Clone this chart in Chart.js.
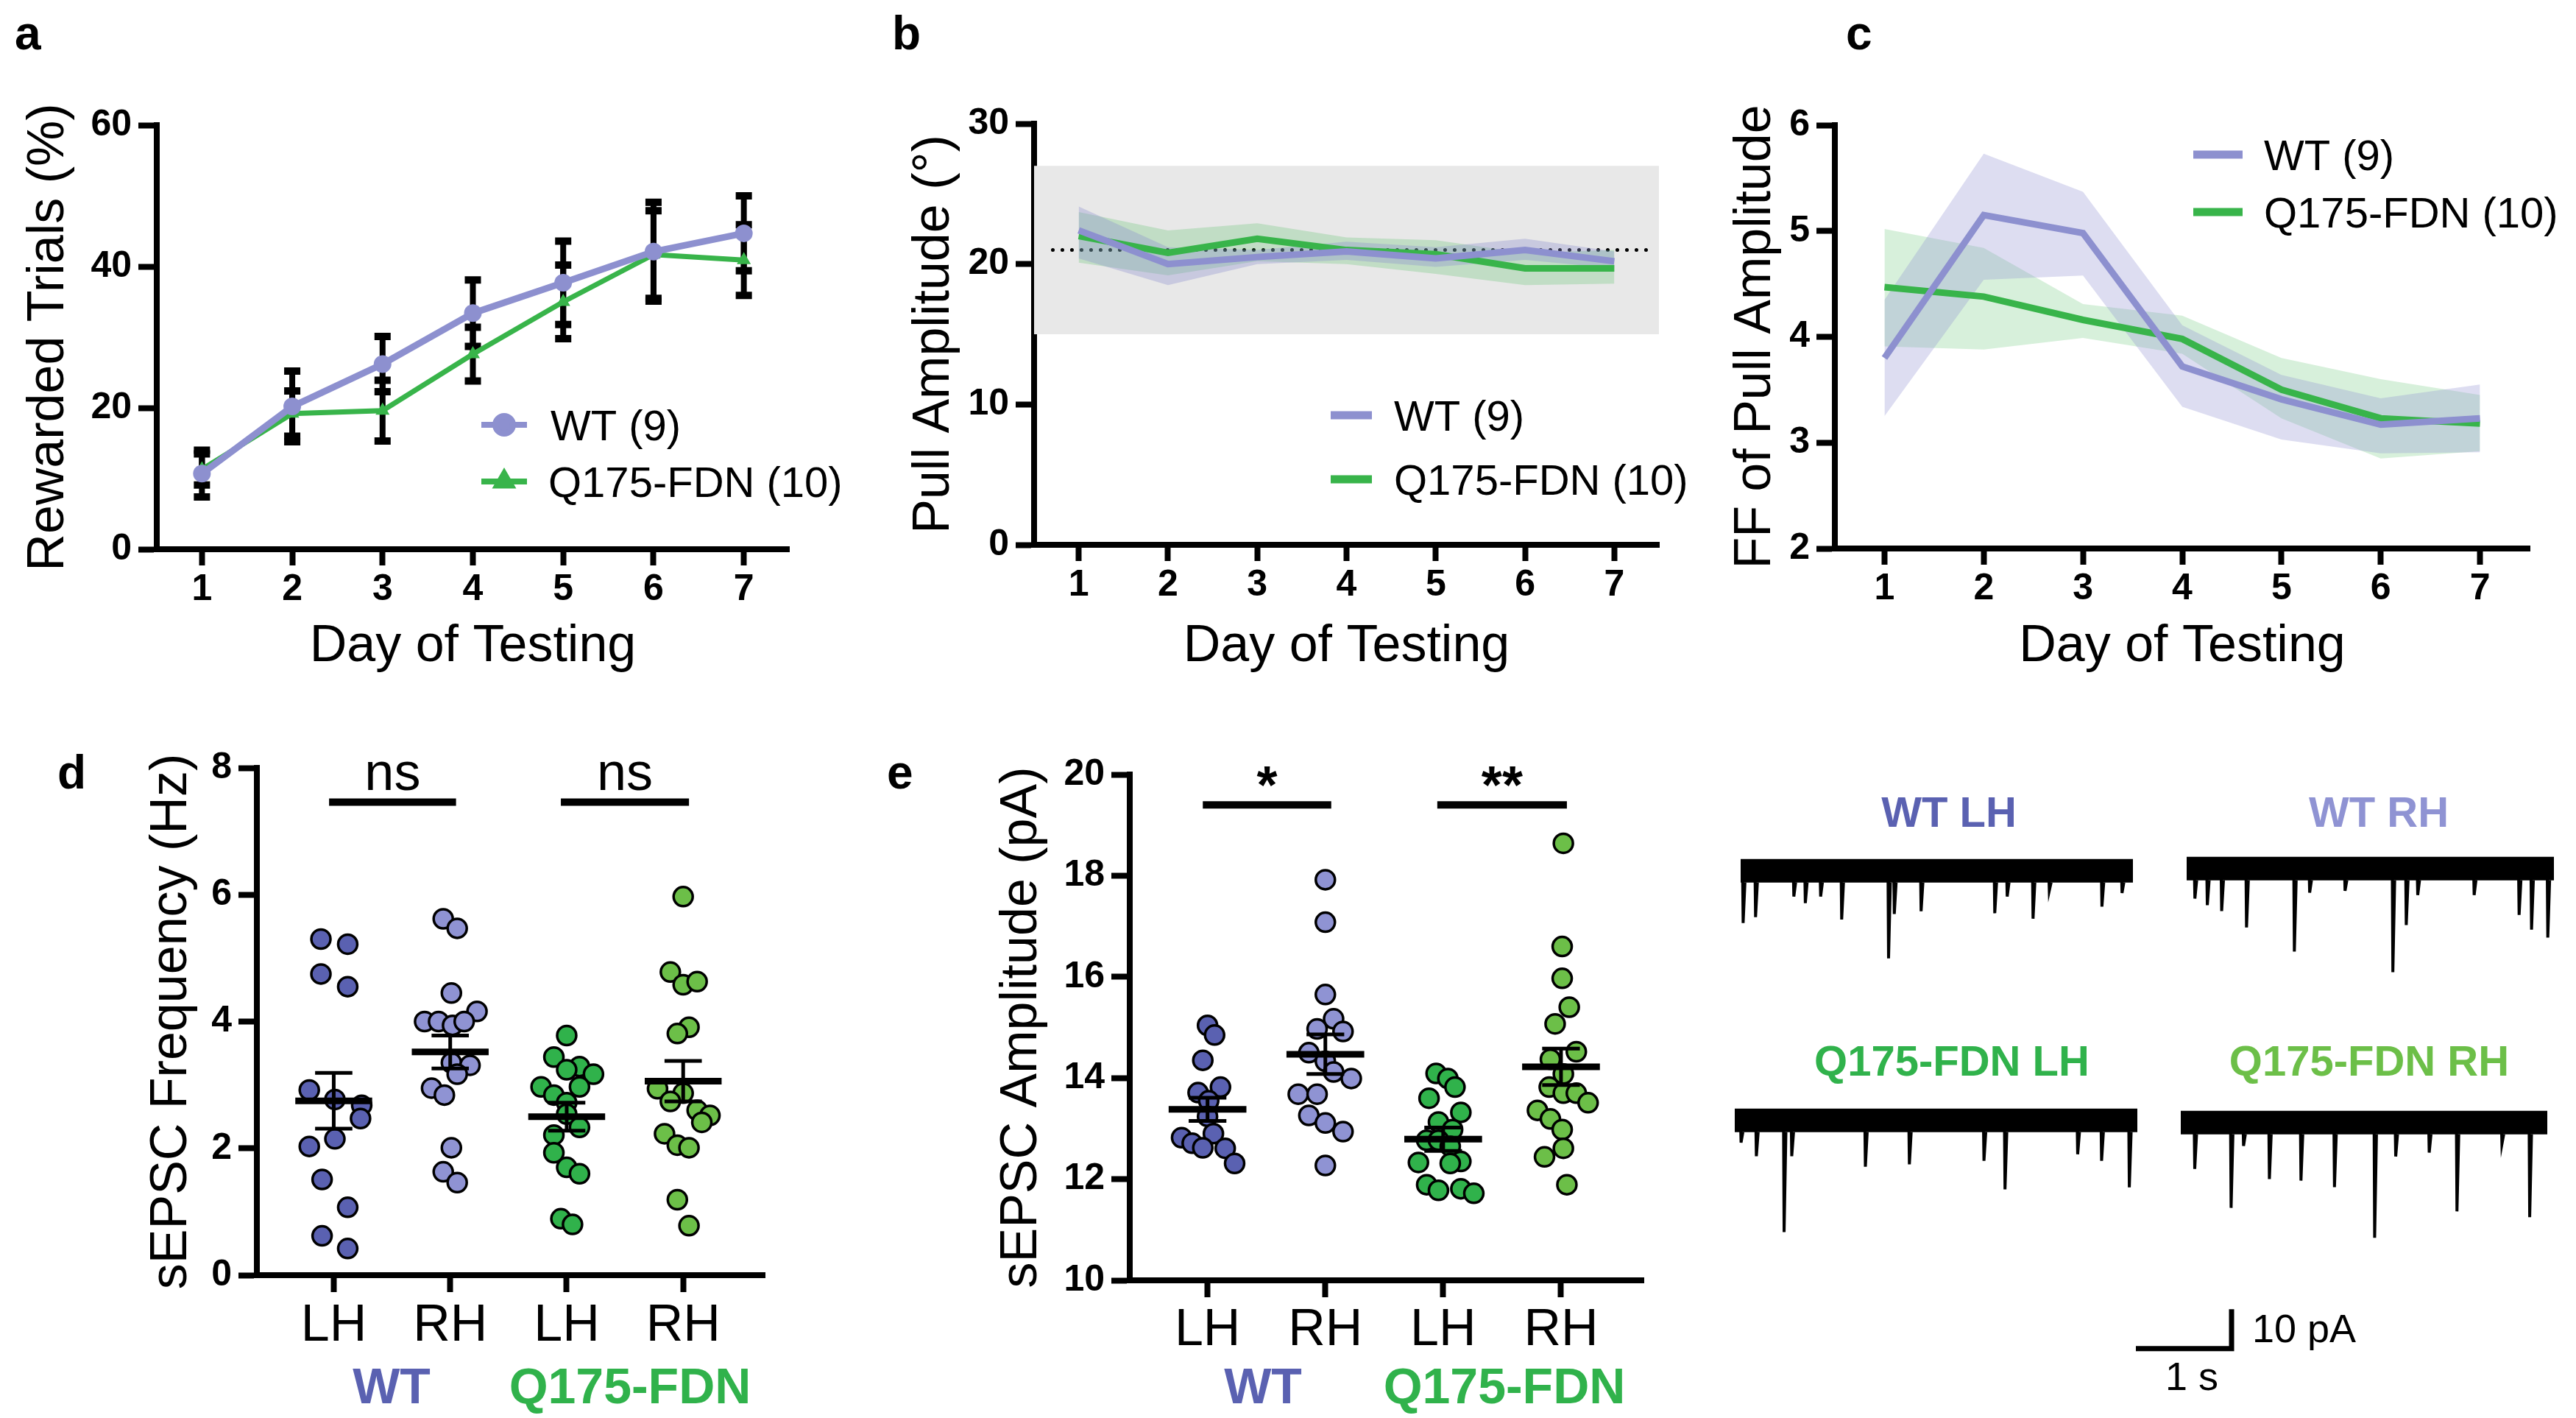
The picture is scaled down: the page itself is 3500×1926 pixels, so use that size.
<!DOCTYPE html>
<html>
<head>
<meta charset="utf-8">
<script src="https://cdn.jsdelivr.net/npm/chart.js@4.4.1/dist/chart.umd.min.js"></script>
<style>
  body { margin: 0; background: #fff; }
  #fig { position: relative; width: 3500px; height: 1926px; overflow: hidden; background: #fff;
         font-family: 'Liberation Sans', Arial, Helvetica, sans-serif; }
  canvas { position: absolute; }
  .lbl { position: absolute; white-space: nowrap; line-height: 1; }
</style>
</head>
<body>
<div id="fig"></div>
<script>
// ---------- data ----------
const days = [1, 2, 3, 4, 5, 6, 7];

// a: rewarded trials (%), mean and SEM
const rewardWT = [10.7, 20.2, 26.2, 33.4, 37.7, 42.1, 44.7];
const rewardWTErr = [3.3, 5.0, 3.9, 4.7, 5.9, 7.0, 5.3];
const rewardQ = [11.3, 19.2, 19.6, 27.6, 35.0, 41.7, 40.9];
const rewardQErr = [2.2, 3.2, 4.3, 3.8, 5.2, 6.2, 5.0];

// b: pull amplitude (deg), mean with upper / lower band
const ampWT = [22.4, 20.0, 20.5, 20.9, 20.4, 21.0, 20.2];
const ampWTHi = [24.1, 21.2, 21.0, 21.6, 21.2, 21.8, 20.9];
const ampWTLo = [20.4, 18.5, 20.0, 20.3, 19.8, 20.3, 19.7];
const ampQ = [22.0, 20.8, 21.8, 21.0, 20.7, 19.7, 19.7];
const ampQHi = [23.7, 22.4, 22.9, 21.9, 21.7, 20.8, 21.0];
const ampQLo = [20.1, 19.2, 20.2, 20.0, 19.3, 18.5, 18.6];
const normalRange = [15, 27];
const normalMean = 21;
const normalSpan = [0.71, 7.41];

// c: FF of pull amplitude
const ffWT = [3.80, 5.15, 4.98, 3.72, 3.41, 3.17, 3.23];
const ffWTHi = [4.35, 5.73, 5.37, 4.11, 3.64, 3.42, 3.55];
const ffWTLo = [3.25, 4.54, 4.58, 3.34, 3.03, 2.90, 2.91];
const ffQ = [4.47, 4.38, 4.16, 3.98, 3.50, 3.23, 3.18];
const ffQHi = [5.02, 4.84, 4.31, 4.20, 3.80, 3.60, 3.45];
const ffQLo = [3.91, 3.88, 3.99, 3.84, 3.23, 2.85, 2.92];

// d: sEPSC frequency (Hz), per cell; offsets = horizontal scatter within the column
const sides = ['LH', 'RH', 'LH', 'RH'];
const freqWTLH = [5.30, 5.22, 4.75, 4.55, 2.92, 2.77, 2.68, 2.47, 2.03, 2.15, 1.51, 1.07, 0.62, 0.42];
const freqWTLHoff = [-0.11, 0.12, -0.11, 0.12, -0.21, 0.01, 0.24, 0.23, -0.21, 0.01, -0.10, 0.12, -0.10, 0.12];
const freqWTRH = [5.62, 5.47, 4.45, 4.16, 4.00, 4.00, 3.94, 4.00, 3.35, 3.31, 3.17, 2.95, 2.84, 2.01, 1.63, 1.46];
const freqWTRHoff = [-0.06, 0.06, 0.01, 0.23, -0.22, -0.10, 0.02, 0.12, 0.01, 0.17, 0.06, -0.16, -0.05, 0.01, -0.06, 0.06];
const freqQLH = [3.78, 3.44, 3.29, 3.17, 3.24, 2.97, 2.97, 2.84, 2.72, 2.54, 2.33, 2.21, 1.93, 1.70, 1.60, 0.89, 0.80];
const freqQLHoff = [0, -0.11, 0.11, 0.23, 0, -0.22, 0.11, -0.11, 0, 0, 0.11, -0.11, -0.11, 0, 0.11, -0.05, 0.05];
const freqQRH = [5.97, 4.78, 4.58, 4.63, 3.91, 3.81, 2.94, 2.87, 2.74, 2.60, 2.52, 2.41, 2.23, 2.05, 2.01, 1.19, 0.78];
const freqQRHoff = [0, -0.11, 0, 0.12, 0.05, -0.05, -0.22, 0, -0.11, 0.12, 0.23, 0.16, -0.16, -0.05, 0.05, -0.05, 0.05];
const freqMeans = [2.75, 3.52, 2.50, 3.06];
const freqSems = [0.44, 0.26, 0.22, 0.32];
const freqSigLevel = 7.46;
const freqSigText = ['ns', 'ns'];

// e: sEPSC amplitude (pA)
const ampsWTLH = [15.04, 14.85, 14.35, 13.82, 13.71, 13.55, 13.24, 12.90, 12.82, 12.71, 12.62, 12.61, 12.31];
const ampsWTLHoff = [0, 0.06, -0.04, 0.11, -0.08, 0.01, 0, 0.05, -0.22, -0.13, -0.04, 0.15, 0.23];
const ampsWTRH = [17.92, 17.08, 15.65, 15.17, 14.97, 14.92, 14.50, 14.33, 14.12, 13.99, 13.68, 13.68, 13.26, 13.11, 12.94, 12.27];
const ampsWTRHoff = [0, 0, 0, 0.07, -0.07, 0.15, -0.14, 0, 0.07, 0.22, -0.23, -0.07, -0.14, 0, 0.15, 0];
const ampsQLH = [14.09, 13.99, 13.82, 13.60, 13.32, 13.13, 12.98, 12.77, 12.77, 12.65, 12.35, 12.33, 12.31, 11.89, 11.78, 11.81, 11.72];
const ampsQLHoff = [-0.06, 0.04, 0.10, -0.12, 0.15, -0.04, 0.08, -0.14, -0.04, 0.06, 0.15, -0.21, 0.06, -0.14, -0.04, 0.15, 0.26];
const ampsQRH = [18.64, 16.60, 15.97, 15.40, 15.07, 14.52, 14.37, 14.08, 13.82, 13.70, 13.70, 13.51, 13.36, 13.19, 12.98, 12.61, 12.44, 11.89];
const ampsQRHoff = [0.02, 0.01, 0.01, 0.07, -0.05, 0.13, -0.09, 0.02, -0.10, 0.02, 0.13, 0.23, -0.20, -0.09, 0.01, 0.02, -0.14, 0.05];
const ampsMeans = [13.38, 14.47, 12.79, 14.22];
const ampsSems = [0.23, 0.39, 0.23, 0.36];
const ampsSigLevel = 19.4;
const ampsSigText = ['*', '**'];

const sigPairs = [[0.96, 2.05], [2.95, 4.05]];

// example traces: event times (s) and peak amplitude (pA below baseline)
const trWTLHt = [0.02, 0.15, 0.55, 0.67, 0.83, 1.05, 1.54, 1.60, 1.88, 2.65, 2.78, 3.05, 3.22, 3.77, 3.98];
const trWTLHa = [-13.4, -11.9, -6.6, -8.3, -6.6, -12.5, -22.5, -11.1, -10.4, -10.9, -6.6, -12.3, -5.1, -9.2, -5.7];
const trWTRHt = [0.08, 0.21, 0.36, 0.62, 1.12, 1.28, 1.65, 2.15, 2.29, 2.41, 3.00, 3.47, 3.60, 3.77];
const trWTRHa = [-7.7, -9.4, -10.9, -15.1, -21.3, -6.2, -5.7, -26.6, -14.5, -6.8, -6.8, -11.9, -15.7, -17.7];
const trQLHt = [0.06, 0.22, 0.51, 0.59, 1.36, 1.82, 2.60, 2.82, 3.58, 3.83, 4.12];
const trQLHa = [-5.7, -9.2, -28.7, -9.2, -11.9, -11.3, -10.4, -17.7, -8.7, -10.4, -17.2];
const trQRHt = [0.14, 0.52, 0.65, 0.92, 1.25, 1.60, 2.02, 2.24, 2.59, 2.88, 3.35, 3.64];
const trQRHa = [-11.9, -21.9, -6.0, -14.5, -14.9, -16.6, -29.6, -8.7, -7.7, -22.8, -5.5, -24.3];
const scaleBarS = 1;
const scaleBarPA = 10;

// ---------- styling ----------
const FONT = "'Liberation Sans', Arial, Helvetica, sans-serif";
const WT_LINE = '#8d90cf';
const Q_LINE = '#38b44a';
const WT_DARK = '#5a61b1';
const WT_LIGHT = '#8f93d3';
const Q_DARK = '#30b24b';
const Q_LIGHT = '#6cbf48';

Chart.defaults.font.family = FONT;
Chart.defaults.color = '#000';
Chart.defaults.animation = false;
Chart.defaults.plugins.legend.display = false;
Chart.defaults.plugins.tooltip.enabled = false;

const fig = document.getElementById('fig');

function makeCanvas(box) {
  const c = document.createElement('canvas');
  const w = box.right - box.left, h = box.bottom - box.top;
  c.width = w; c.height = h;
  c.style.left = box.left + 'px'; c.style.top = box.top + 'px';
  c.style.width = w + 'px'; c.style.height = h + 'px';
  fig.appendChild(c);
  return c;
}

function label(text, x, baseline, size, opts = {}) {
  const d = document.createElement('div');
  d.className = 'lbl';
  d.textContent = text;
  d.style.fontSize = size + 'px';
  d.style.fontWeight = opts.weight || 'normal';
  d.style.color = opts.color || '#000';
  d.style.left = x + 'px';
  d.style.top = (baseline - 0.8465 * size) + 'px';
  if (opts.center) d.style.transform = 'translateX(-50%)';
  fig.appendChild(d);
}

function yAxis(min, max, step, width, title) {
  return {
    type: 'linear', min: min, max: max,
    afterFit: s => { s.width = width; },
    ticks: { stepSize: step, font: { size: 50, weight: 'bold' }, padding: 9, color: '#000' },
    grid: { drawOnChartArea: false, tickLength: 25, tickWidth: 8, tickColor: '#000' },
    border: { color: '#000', width: 8 },
    title: { display: true, text: title, font: { size: 70 }, padding: 0, color: '#000' }
  };
}

function xDays(height) {
  return {
    type: 'linear', min: 0.5, max: 7.5,
    afterFit: s => { s.height = height; },
    afterBuildTicks: s => { s.ticks = days.map(v => ({ value: v })); },
    ticks: { font: { size: 50, weight: 'bold' }, padding: 3, color: '#000' },
    grid: { drawOnChartArea: false, tickLength: 22, tickWidth: 8, tickColor: '#000' },
    border: { color: '#000', width: 8 },
    title: { display: true, text: 'Day of Testing', font: { size: 70 }, padding: 0, color: '#000' }
  };
}

function xSides(height, pad) {
  return {
    type: 'linear', min: 0.34, max: 4.7,
    afterFit: s => { s.height = height; },
    afterBuildTicks: s => { s.ticks = sides.map((v, i) => ({ value: i + 1 })); },
    ticks: { font: { size: 70 }, padding: pad, color: '#000', callback: v => sides[v - 1] },
    grid: { drawOnChartArea: false, tickLength: 23, tickWidth: 8, tickColor: '#000' },
    border: { color: '#000', width: 8 }
  };
}

function pts(xs, ys) { return xs.map((x, i) => ({ x: x, y: ys[i] })); }
function layoutFor(plot, canvas) {
  return { padding: { top: plot.top - canvas.top, right: canvas.right - plot.right, left: 0, bottom: 0 } };
}

// ---------- plugins ----------
const errorBars = {
  id: 'errorBars',
  beforeDatasetsDraw(chart) {
    const { ctx, scales: { x, y } } = chart;
    ctx.save();
    ctx.strokeStyle = '#000';
    chart.data.datasets.forEach(ds => {
      if (!ds.errors) return;
      ds.data.forEach((p, i) => {
        const px = x.getPixelForValue(p.x);
        const t = y.getPixelForValue(p.y + ds.errors[i]);
        const b = y.getPixelForValue(p.y - ds.errors[i]);
        ctx.lineWidth = 8;
        ctx.beginPath();
        ctx.moveTo(px, t); ctx.lineTo(px, b);
        ctx.stroke();
        ctx.lineWidth = 10;
        ctx.beginPath();
        ctx.moveTo(px - 11, t); ctx.lineTo(px + 11, t);
        ctx.moveTo(px - 11, b); ctx.lineTo(px + 11, b);
        ctx.stroke();
      });
    });
    ctx.restore();
  }
};

const inLegend = {
  id: 'inLegend',
  afterDraw(chart, args, o) {
    if (!o.items) return;
    const ctx = chart.ctx;
    ctx.save();
    o.items.forEach(it => {
      const ds = chart.data.datasets[it.dataset];
      const y = it.y - o.oy;
      ctx.strokeStyle = ds.borderColor;
      ctx.lineWidth = it.lineWidth;
      ctx.beginPath();
      ctx.moveTo(it.x0 - o.ox, y); ctx.lineTo(it.x1 - o.ox, y);
      ctx.stroke();
      if (it.marker) {
        ctx.fillStyle = ds.borderColor;
        ctx.strokeStyle = ds.borderColor;
        Chart.helpers.drawPoint(ctx, { pointStyle: ds.pointStyle, radius: ds.pointRadius, rotation: 0, borderWidth: 1 },
          (it.x0 + it.x1) / 2 - o.ox, y);
      }
      ctx.fillStyle = '#000';
      ctx.font = o.size + 'px ' + FONT;
      ctx.textBaseline = 'alphabetic';
      ctx.fillText(ds.label, it.tx - o.ox, y + 0.358 * o.size);
    });
    ctx.restore();
  }
};

const summary = {
  id: 'summary',
  afterDatasetsDraw(chart, args, o) {
    const { ctx, scales: { x, y } } = chart;
    ctx.save();
    ctx.strokeStyle = '#000';
    ctx.fillStyle = '#000';
    o.means.forEach((m, i) => {
      const c = i + 1;
      const ym = y.getPixelForValue(m);
      ctx.lineWidth = 9;
      ctx.beginPath();
      ctx.moveTo(x.getPixelForValue(c - 0.33), ym); ctx.lineTo(x.getPixelForValue(c + 0.33), ym);
      ctx.stroke();
      const yt = y.getPixelForValue(m + o.sems[i]), yb = y.getPixelForValue(m - o.sems[i]);
      const xc = x.getPixelForValue(c), xl = x.getPixelForValue(c - 0.16), xr = x.getPixelForValue(c + 0.16);
      ctx.lineWidth = 5;
      ctx.beginPath();
      ctx.moveTo(xc, yt); ctx.lineTo(xc, yb);
      ctx.moveTo(xl, yt); ctx.lineTo(xr, yt);
      ctx.moveTo(xl, yb); ctx.lineTo(xr, yb);
      ctx.stroke();
    });
    const ys = y.getPixelForValue(o.level);
    sigPairs.forEach((pr, i) => {
      const x0 = x.getPixelForValue(pr[0]), x1 = x.getPixelForValue(pr[1]);
      ctx.lineWidth = 10;
      ctx.beginPath(); ctx.moveTo(x0, ys); ctx.lineTo(x1, ys); ctx.stroke();
      ctx.font = o.textWeight + ' ' + o.textSize + 'px ' + FONT;
      ctx.textAlign = 'center';
      ctx.textBaseline = 'alphabetic';
      ctx.fillText(o.text[i], (x0 + x1) / 2, ys - o.textLift);
    });
    ctx.restore();
  }
};

// ---------- panel a ----------
{
  const plot = { left: 213, top: 170, right: 1072, bottom: 746 };
  const cv = { left: 25, top: 130, right: 1180, bottom: 921 };
  new Chart(makeCanvas(cv), {
    type: 'line',
    data: { datasets: [
      { label: 'WT (9)', data: pts(days, rewardWT), errors: rewardWTErr, borderColor: WT_LINE, backgroundColor: WT_LINE,
        borderWidth: 9, pointRadius: 12, pointBorderWidth: 0, pointStyle: 'circle', order: 1 },
      { label: 'Q175-FDN (10)', data: pts(days, rewardQ), errors: rewardQErr, borderColor: Q_LINE, backgroundColor: Q_LINE,
        borderWidth: 7, pointRadius: 11, pointBorderWidth: 0, pointStyle: 'triangle', order: 2 }
    ] },
    options: {
      responsive: false,
      layout: layoutFor(plot, cv),
      scales: { x: xDays(cv.bottom - plot.bottom), y: yAxis(0, 60, 20, plot.left - cv.left, 'Rewarded Trials (%)') },
      plugins: { inLegend: { ox: cv.left, oy: cv.top, size: 58, items: [
        { dataset: 0, x0: 654, x1: 716, y: 577, tx: 748, lineWidth: 8, marker: true },
        { dataset: 1, x0: 654, x1: 716, y: 654, tx: 745, lineWidth: 8, marker: true }
      ] } }
    },
    plugins: [errorBars, inLegend]
  });
}

// ---------- panel b ----------
{
  const plot = { left: 1405, top: 168, right: 2254, bottom: 740 };
  const cv = { left: 1228, top: 128, right: 2330, bottom: 921 };
  new Chart(makeCanvas(cv), {
    type: 'line',
    data: { datasets: [
      { label: 'WT (9)', data: pts(days, ampWT), borderColor: WT_LINE, borderWidth: 9, pointRadius: 0, order: 1 },
      { label: 'Q175-FDN (10)', data: pts(days, ampQ), borderColor: Q_LINE, borderWidth: 9, pointRadius: 0, order: 2 },
      { data: pts(days, ampWTHi), borderWidth: 0, pointRadius: 0, fill: '+1', backgroundColor: 'rgba(141,144,207,0.35)', order: 5 },
      { data: pts(days, ampWTLo), borderWidth: 0, pointRadius: 0, fill: false, order: 5 },
      { data: pts(days, ampQHi), borderWidth: 0, pointRadius: 0, fill: '+1', backgroundColor: 'rgba(56,180,74,0.22)', order: 6 },
      { data: pts(days, ampQLo), borderWidth: 0, pointRadius: 0, fill: false, order: 6 },
      { data: pts(normalSpan, [normalMean, normalMean]), borderColor: '#000', borderWidth: 5, borderDash: [0, 13],
        borderCapStyle: 'round', pointRadius: 0, order: 8 },
      { data: pts([0.5, 7.5], [normalRange[1], normalRange[1]]), borderWidth: 0, pointRadius: 0,
        fill: { value: normalRange[0] }, backgroundColor: '#e8e8e8', order: 9 }
    ] },
    options: {
      responsive: false,
      layout: layoutFor(plot, cv),
      scales: { x: xDays(cv.bottom - plot.bottom), y: yAxis(0, 30, 10, plot.left - cv.left, 'Pull Amplitude (°)') },
      plugins: { inLegend: { ox: cv.left, oy: cv.top, size: 58, items: [
        { dataset: 0, x0: 1808, x1: 1864, y: 564, tx: 1894, lineWidth: 11 },
        { dataset: 1, x0: 1808, x1: 1864, y: 651, tx: 1894, lineWidth: 11 }
      ] } }
    },
    plugins: [inLegend]
  });
}

// ---------- panel c ----------
{
  const plot = { left: 2493, top: 170, right: 3437, bottom: 745 };
  const cv = { left: 2344, top: 130, right: 3500, bottom: 921 };
  new Chart(makeCanvas(cv), {
    type: 'line',
    data: { datasets: [
      { label: 'WT (9)', data: pts(days, ffWT), borderColor: WT_LINE, borderWidth: 9, pointRadius: 0, order: 1 },
      { label: 'Q175-FDN (10)', data: pts(days, ffQ), borderColor: Q_LINE, borderWidth: 9, pointRadius: 0, order: 2 },
      { data: pts(days, ffWTHi), borderWidth: 0, pointRadius: 0, fill: '+1', backgroundColor: 'rgba(141,144,207,0.3)', order: 5 },
      { data: pts(days, ffWTLo), borderWidth: 0, pointRadius: 0, fill: false, order: 5 },
      { data: pts(days, ffQHi), borderWidth: 0, pointRadius: 0, fill: '+1', backgroundColor: 'rgba(56,180,74,0.2)', order: 6 },
      { data: pts(days, ffQLo), borderWidth: 0, pointRadius: 0, fill: false, order: 6 }
    ] },
    options: {
      responsive: false,
      layout: layoutFor(plot, cv),
      scales: { x: xDays(cv.bottom - plot.bottom), y: yAxis(2, 6, 1, plot.left - cv.left, 'FF of Pull Amplitude') },
      plugins: { inLegend: { ox: cv.left, oy: cv.top, size: 58, items: [
        { dataset: 0, x0: 2980, x1: 3047, y: 210, tx: 3076, lineWidth: 11 },
        { dataset: 1, x0: 2980, x1: 3047, y: 288, tx: 3076, lineWidth: 11 }
      ] } }
    },
    plugins: [inLegend]
  });
}

// ---------- panels d and e ----------
function dotDataset(col, vals, offs, color) {
  return { type: 'scatter', data: vals.map((v, i) => ({ x: col + offs[i], y: v })),
    backgroundColor: color, borderColor: '#000', pointRadius: 13, pointBorderWidth: 3.5 };
}

{
  const plot = { left: 349, top: 1043, right: 1039, bottom: 1732 };
  const cv = { left: 192, top: 990, right: 1065, bottom: 1850 };
  new Chart(makeCanvas(cv), {
    type: 'scatter',
    data: { datasets: [
      dotDataset(1, freqWTLH, freqWTLHoff, WT_DARK),
      dotDataset(2, freqWTRH, freqWTRHoff, WT_LIGHT),
      dotDataset(3, freqQLH, freqQLHoff, Q_DARK),
      dotDataset(4, freqQRH, freqQRHoff, Q_LIGHT)
    ] },
    options: {
      responsive: false,
      layout: layoutFor(plot, cv),
      scales: { x: xSides(cv.bottom - plot.bottom, 5), y: yAxis(0, 8, 2, plot.left - cv.left, 'sEPSC Frequency (Hz)') },
      plugins: { summary: { means: freqMeans, sems: freqSems, level: freqSigLevel, text: freqSigText,
        textSize: 72, textWeight: 'normal', textLift: 17 } }
    },
    plugins: [summary]
  });
}

{
  const plot = { left: 1535, top: 1052, right: 2233, bottom: 1739 };
  const cv = { left: 1347, top: 990, right: 2260, bottom: 1856 };
  new Chart(makeCanvas(cv), {
    type: 'scatter',
    data: { datasets: [
      dotDataset(1, ampsWTLH, ampsWTLHoff, WT_DARK),
      dotDataset(2, ampsWTRH, ampsWTRHoff, WT_LIGHT),
      dotDataset(3, ampsQLH, ampsQLHoff, Q_DARK),
      dotDataset(4, ampsQRH, ampsQRHoff, Q_LIGHT)
    ] },
    options: {
      responsive: false,
      layout: layoutFor(plot, cv),
      scales: { x: xSides(cv.bottom - plot.bottom, 4), y: yAxis(10, 20, 2, plot.left - cv.left, 'sEPSC Amplitude (pA)') },
      plugins: { summary: { means: ampsMeans, sems: ampsSems, level: ampsSigLevel, text: ampsSigText,
        textSize: 72, textWeight: 'bold', textLift: 2 } }
    },
    plugins: [summary]
  });
}

// ---------- example traces ----------
const PX_PER_S = 130, PX_PER_PA = 5.3, TR_TOP = 6, TR_BOT = -32;
function trace(x0, yc, dur, times, amps) {
  const box = { left: x0, top: Math.round(yc - TR_TOP * PX_PER_PA), right: Math.round(x0 + dur * PX_PER_S) };
  box.bottom = Math.round(box.top + (TR_TOP - TR_BOT) * PX_PER_PA);
  const spikes = [];
  times.forEach((t, i) => {
    spikes.push({ x: t, y: 0 }, { x: t + 0.006, y: amps[i] }, { x: t + 0.025, y: -3 }, { x: t + 0.026, y: null });
  });
  new Chart(makeCanvas(box), {
    type: 'line',
    data: { datasets: [
      { data: [{ x: 0, y: 0 }, { x: dur, y: 0 }], borderColor: '#000', borderWidth: 32, pointRadius: 0, borderCapStyle: 'butt' },
      { data: spikes, borderColor: '#000', borderWidth: 4, pointRadius: 0, spanGaps: false, clip: 10 }
    ] },
    options: { responsive: false,
      scales: { x: { type: 'linear', display: false, min: 0, max: dur }, y: { display: false, min: TR_BOT, max: TR_TOP } } }
  });
}
trace(2365, 1183, 4.10, trWTLHt, trWTLHa);
trace(2971, 1180, 3.84, trWTRHt, trWTRHa);
trace(2357, 1522, 4.21, trQLHt, trQLHa);
trace(2963, 1525, 3.83, trQRHt, trQRHa);

// scale bar
{
  const box = { left: 2889, top: 1773, right: 3045, bottom: 1837 };
  new Chart(makeCanvas(box), {
    type: 'line',
    data: { datasets: [
      { data: [{ x: 0, y: 0 }, { x: scaleBarS, y: 0 }, { x: scaleBarS, y: scaleBarPA }], borderColor: '#000',
        borderWidth: 7, pointRadius: 0, borderJoinStyle: 'miter' }
    ] },
    options: { responsive: false,
      scales: { x: { type: 'linear', display: false, min: -0.1, max: 1.1 }, y: { display: false, min: -1, max: 11 } } }
  });
}

// ---------- text labels ----------
label('a', 20, 67, 64, { weight: 'bold' });
label('b', 1212, 67, 64, { weight: 'bold' });
label('c', 2508, 67, 64, { weight: 'bold' });
label('d', 78, 1071, 64, { weight: 'bold' });
label('e', 1205, 1071, 64, { weight: 'bold' });

label('WT', 532, 1906, 68, { weight: 'bold', color: WT_DARK, center: true });
label('Q175-FDN', 856, 1906, 68, { weight: 'bold', color: Q_DARK, center: true });
label('WT', 1716, 1906, 68, { weight: 'bold', color: WT_DARK, center: true });
label('Q175-FDN', 2044, 1906, 68, { weight: 'bold', color: Q_DARK, center: true });

label('WT LH', 2648, 1123, 58, { weight: 'bold', color: WT_DARK, center: true });
label('WT RH', 3232, 1123, 58, { weight: 'bold', color: WT_LIGHT, center: true });
label('Q175-FDN LH', 2652, 1461, 58, { weight: 'bold', color: Q_DARK, center: true });
label('Q175-FDN RH', 3219, 1461, 58, { weight: 'bold', color: Q_LIGHT, center: true });

label('10 pA', 3060, 1823, 54);
label('1 s', 2978, 1888, 54, { center: true });
</script>
</body>
</html>
